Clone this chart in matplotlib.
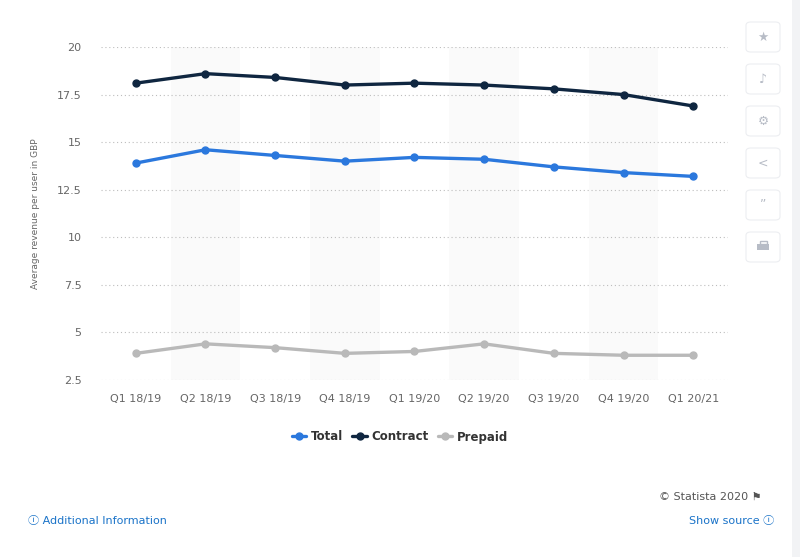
import matplotlib.pyplot as plt
from matplotlib.patches import FancyBboxPatch, Rectangle

quarters = ['Q1 18/19', 'Q2 18/19', 'Q3 18/19', 'Q4 18/19', 'Q1 19/20',
            'Q2 19/20', 'Q3 19/20', 'Q4 19/20', 'Q1 20/21']
total = [13.9, 14.6, 14.3, 14.0, 14.2, 14.1, 13.7, 13.4, 13.2]
contract = [18.1, 18.6, 18.4, 18.0, 18.1, 18.0, 17.8, 17.5, 16.9]
prepaid = [3.9, 4.4, 4.2, 3.9, 4.0, 4.4, 3.9, 3.8, 3.8]
yticks = [2.5, 5, 7.5, 10, 12.5, 15, 17.5, 20]

plt.rcParams['font.family'] = ['DejaVu Sans']

fig = plt.figure(figsize=(8, 5.57), dpi=100)
W, H = 800, 557
ax = fig.add_axes([101 / W, 1 - 380 / H, 627 / W, 333 / H])

# alternating column bands
x = list(range(len(quarters)))
for i in x:
    if i % 2 == 1:
        ax.axvspan(i - 0.5, i + 0.5, color='#fafafa', zorder=0, lw=0)

for v in yticks:
    ax.axhline(v, color='#bdbdbd', lw=0.8, ls=(0, (1, 2.5)), zorder=1)

series = [('Total', total, '#2b78dd'), ('Contract', contract, '#0f2640'),
          ('Prepaid', prepaid, '#b9b9b9')]
for name, vals, col in series:
    ax.plot(x, vals, color=col, lw=2.4, marker='o', ms=5, label=name, zorder=3,
            solid_capstyle='round')

ax.set_xlim(-0.5, len(quarters) - 0.5)
ax.set_ylim(2.5, 20)
ax.set_yticks(yticks)
ax.set_yticklabels(['2.5', '5', '7.5', '10', '12.5', '15', '17.5', '20'])
ax.set_xticks(x)
ax.set_xticklabels(quarters)
ax.tick_params(axis='both', length=0, labelsize=8, colors='#666666')
ax.tick_params(axis='x', pad=10)
ax.tick_params(axis='y', pad=14)
for s in ax.spines.values():
    s.set_visible(False)
ax.set_ylabel('Average revenue per user in GBP', fontsize=6.5, color='#666666', labelpad=12)

leg = fig.legend(loc='center', bbox_to_anchor=(400 / W, 1 - 437 / H), ncol=3, frameon=False,
                 handlelength=1.2, columnspacing=0.8, handletextpad=0.4,
                 prop={'weight': 'bold', 'size': 8.5, 'family': 'DejaVu Sans'})
for t in leg.get_texts():
    t.set_color('#333333')

# footer texts
fam = ['DejaVu Sans', 'Noto Sans CJK SC']
fig.text(762 / W, 1 - 497 / H, '\u00a9 Statista 2020 \u2691', ha='right', va='center',
         fontsize=8, color='#555555')
fig.text(28 / W, 1 - 521 / H, '\u24d8 Additional Information', ha='left', va='center',
         fontsize=8, color='#1a73c8', family=fam)
fig.text(774 / W, 1 - 521 / H, 'Show source \u24d8', ha='right', va='center',
         fontsize=8, color='#1a73c8', family=fam)

# side toolbar
fig.patches.append(Rectangle((792 / W, 0), 8 / W, 1, transform=fig.transFigure,
                             color='#f2f3f5', lw=0))
icons = ['\u2605', '\u266a', '\u2699', '<', '\u201d', '']
for k, ic in enumerate(icons):
    cy = 37 + k * 42
    box = FancyBboxPatch((746 / W, 1 - (cy + 15) / H), 34 / W, 30 / H,
                         boxstyle='round,pad=0,rounding_size=0.006',
                         transform=fig.transFigure, facecolor='white',
                         edgecolor='#eceef1', lw=0.8)
    fig.patches.append(box)
    if ic:
        fig.text(763 / W, 1 - cy / H, ic, ha='center', va='center', fontsize=9,
                 color='#b7bcc6')
    else:
        # printer glyph drawn as shapes
        fig.patches.append(Rectangle((757 / W, 1 - (cy + 3) / H), 12 / W, 6 / H,
                                     transform=fig.transFigure, facecolor='#b7bcc6', lw=0))
        fig.patches.append(Rectangle((759.5 / W, 1 - (cy - 3) / H), 7 / W, 3 / H,
                                     transform=fig.transFigure, facecolor='none',
                                     edgecolor='#b7bcc6', lw=1))

fig.savefig('out.png', dpi=100)
